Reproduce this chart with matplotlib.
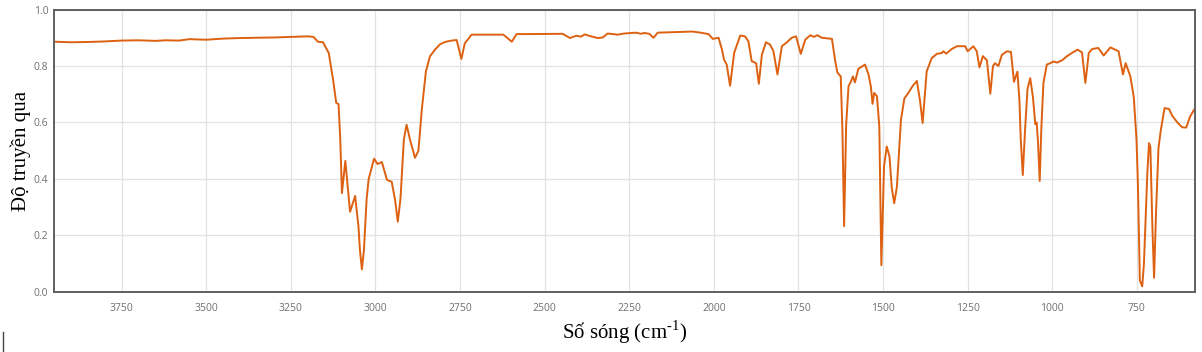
import matplotlib.pyplot as plt
from matplotlib.lines import Line2D

plt.rcParams['mathtext.fontset'] = 'custom'
plt.rcParams['mathtext.rm'] = 'Liberation Serif'

# IR spectrum (wavenumber cm-1, transmittance)
so_song = [3948, 3900, 3850, 3800, 3750, 3700, 3650, 3620, 3580, 3550, 3500, 3450, 3400,
           3350, 3300, 3250, 3200, 3183, 3170, 3155, 3138, 3125, 3116, 3109, 3104, 3099,
           3089, 3075, 3060, 3050, 3046, 3040, 3034, 3026, 3020, 3004, 2994, 2981, 2966,
           2952, 2942, 2934, 2926, 2916, 2908, 2898, 2883, 2873, 2863, 2851, 2839, 2824,
           2810, 2795, 2775, 2760, 2746, 2736, 2716, 2622, 2597, 2583, 2544, 2447, 2425,
           2407, 2392, 2382, 2363, 2343, 2328, 2314, 2284, 2265, 2230, 2215, 2206, 2191,
           2178, 2166, 2112, 2063, 2039, 2016, 2003, 1986, 1976, 1970, 1962, 1952, 1940,
           1922, 1908, 1898, 1888, 1875, 1867, 1858, 1846, 1834, 1824, 1812, 1799, 1784,
           1770, 1757, 1743, 1730, 1715, 1704, 1694, 1681, 1651, 1642, 1635, 1625, 1620,
           1615, 1609, 1602, 1595, 1589, 1583, 1573, 1553, 1543, 1536, 1531, 1526, 1518,
           1511, 1505, 1497, 1489, 1481, 1474, 1467, 1459, 1447, 1437, 1425, 1412, 1400,
           1391, 1383, 1371, 1356, 1341, 1326, 1322, 1313, 1297, 1282, 1257, 1250, 1233,
           1223, 1215, 1205, 1193, 1183, 1175, 1169, 1159, 1149, 1134, 1122, 1113, 1103,
           1097, 1093, 1087, 1080, 1073, 1065, 1057, 1050, 1046, 1042, 1037, 1032, 1026,
           1016, 1006, 996, 986, 971, 956, 942, 925, 912, 902, 892, 882, 864, 848, 828,
           804, 791, 783, 769, 759, 751, 747, 741, 734, 729, 719, 714, 710, 704, 699, 693,
           686, 679, 668, 655, 645, 630, 616, 604, 593, 581]
do_truyen_qua = [0.886, 0.884, 0.885, 0.887, 0.890, 0.891, 0.889, 0.891, 0.890, 0.895,
                 0.893, 0.897, 0.899, 0.900, 0.901, 0.903, 0.905, 0.903, 0.886, 0.884,
                 0.846, 0.750, 0.670, 0.665, 0.540, 0.350, 0.464, 0.284, 0.340, 0.230,
                 0.150, 0.080, 0.150, 0.330, 0.400, 0.472, 0.453, 0.460, 0.397, 0.390,
                 0.326, 0.249, 0.330, 0.540, 0.592, 0.540, 0.475, 0.500, 0.645, 0.780,
                 0.834, 0.858, 0.876, 0.885, 0.890, 0.892, 0.825, 0.880, 0.911, 0.911,
                 0.886, 0.913, 0.913, 0.914, 0.899, 0.907, 0.904, 0.912, 0.905, 0.899,
                 0.901, 0.915, 0.911, 0.915, 0.918, 0.914, 0.917, 0.914, 0.900, 0.918,
                 0.920, 0.922, 0.918, 0.913, 0.896, 0.900, 0.858, 0.823, 0.805, 0.730,
                 0.846, 0.908, 0.905, 0.888, 0.817, 0.810, 0.737, 0.840, 0.884, 0.876,
                 0.853, 0.770, 0.870, 0.884, 0.900, 0.905, 0.843, 0.893, 0.909, 0.903,
                 0.909, 0.900, 0.896, 0.823, 0.777, 0.763, 0.570, 0.233, 0.590, 0.728,
                 0.745, 0.763, 0.742, 0.790, 0.805, 0.770, 0.728, 0.666, 0.705, 0.693,
                 0.586, 0.095, 0.445, 0.515, 0.480, 0.367, 0.314, 0.373, 0.610, 0.685,
                 0.705, 0.730, 0.747, 0.680, 0.598, 0.781, 0.828, 0.843, 0.846, 0.852,
                 0.844, 0.860, 0.870, 0.870, 0.852, 0.870, 0.852, 0.795, 0.835, 0.820,
                 0.702, 0.800, 0.810, 0.800, 0.839, 0.852, 0.850, 0.744, 0.780, 0.680,
                 0.540, 0.414, 0.580, 0.720, 0.757, 0.690, 0.594, 0.600, 0.530, 0.393,
                 0.585, 0.740, 0.805, 0.810, 0.816, 0.812, 0.820, 0.835, 0.846, 0.858,
                 0.848, 0.740, 0.846, 0.860, 0.864, 0.837, 0.866, 0.852, 0.770, 0.810,
                 0.763, 0.690, 0.540, 0.390, 0.041, 0.020, 0.100, 0.420, 0.527, 0.515,
                 0.230, 0.050, 0.290, 0.510, 0.574, 0.651, 0.648, 0.623, 0.600, 0.583,
                 0.582, 0.620, 0.645]

x_ticks = [3750, 3500, 3250, 3000, 2750, 2500, 2250, 2000, 1750, 1500, 1250, 1000, 750]
y_ticks = [0.0, 0.2, 0.4, 0.6, 0.8, 1.0]

fig = plt.figure(figsize=(12.02, 3.52), dpi=100)
ax = fig.add_axes([0.0449, 0.1705, 0.9493, 0.8025])

ax.plot(so_song, do_truyen_qua, color='#dd6110', linewidth=1.4)

ax.set_xlim(3950, 578)
ax.set_ylim(0, 1.0)
ax.set_xticks(x_ticks)
ax.set_yticks(y_ticks)
ax.set_yticklabels([f'{v:.1f}' for v in y_ticks])
ax.grid(True, color='#e2e2e2', linewidth=0.9)
ax.set_axisbelow(True)
ax.tick_params(length=0, labelsize=7.5, labelcolor='#707070', pad=8)
ax.tick_params(axis='y', pad=4)
for lbl in ax.get_xticklabels() + ax.get_yticklabels():
    lbl.set_family('Open Sans')
for s in ax.spines.values():
    s.set_color('#606060')
    s.set_linewidth(1.4)

ax.set_xlabel('Số sóng (cm$^{\u2010 1}$)', family='Liberation Serif', fontsize=15, labelpad=3)
ax.set_ylabel('Độ truyền qua', family='Liberation Serif', fontsize=15, labelpad=2)

# small mark at the bottom-left corner of the reference
fig.add_artist(Line2D([3 / 1202, 3 / 1202], [0, 20 / 352], color='#444444', linewidth=1))

fig.savefig('out.png', dpi=100)
